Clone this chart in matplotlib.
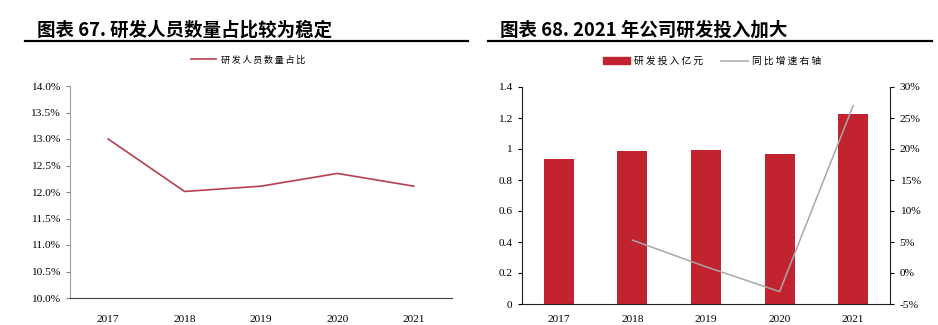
import matplotlib.pyplot as plt
import matplotlib.ticker as mtick
from matplotlib.lines import Line2D
from matplotlib.patches import Patch

plt.rcParams['font.family'] = ['Liberation Serif', 'Noto Sans CJK SC']

years = ['2017', '2018', '2019', '2020', '2021']
# share of R&D staff in total headcount (%)
staff_share = [13.0, 12.01, 12.11, 12.35, 12.11]
# R&D spending (100m CNY) and yoy growth (%)
rd_spend = [0.935, 0.985, 0.995, 0.965, 1.225]
growth_years = ['2018', '2019', '2020', '2021']
rd_growth = [5.3, 1.0, -3.0, 27.0]

red_line = '#B8404E'
bar_red = '#C1232F'
grey = '#A8A8A8'
cjk = ['Noto Sans CJK SC']
cjk_sp = ['Noto Sans CJK SC', 'DejaVu Sans']


def spaced(s, gap):
    return gap.join(s)


fig = plt.figure(figsize=(9.38, 3.25), dpi=100)

# titles with underline rules
fig.text(37/938, 1 - 30/325, '图表 67. 研发人员数量占比较为稳定', fontsize=13.3,
         fontweight='bold', family=cjk, va='center', ha='left')
fig.text(500/938, 1 - 30/325, '图表 68. 2021 年公司研发投入加大', fontsize=13.3,
         fontweight='bold', family=cjk, va='center', ha='left')
fig.add_artist(Line2D([25/938, 468/938], [1 - 41/325] * 2, color='black', lw=1.6))
fig.add_artist(Line2D([488/938, 932/938], [1 - 41/325] * 2, color='black', lw=1.6))

# left panel
ax1 = fig.add_axes([70/938, 27/325, 382/938, 212/325])
x = range(len(years))
ax1.plot(x, staff_share, color=red_line, lw=1.2)
ax1.set_xlim(-0.5, len(years) - 0.5)
ax1.set_ylim(10, 14)
ax1.set_yticks([10 + 0.5 * i for i in range(9)])
ax1.yaxis.set_major_formatter(mtick.FuncFormatter(lambda v, p: f'{v:.1f}%'))
ax1.set_xticks(list(x))
ax1.set_xticklabels(years)
ax1.tick_params(axis='x', length=0, pad=12, labelsize=8.2)
ax1.tick_params(axis='y', length=3, width=0.8, color='#808080', pad=4, labelsize=8.2)
for s in ['top', 'right']:
    ax1.spines[s].set_visible(False)
ax1.spines['left'].set_color('#A0A0A0')
ax1.spines['bottom'].set_color('#404040')
ax1.legend(handles=[Line2D([], [], color=red_line, lw=1.2)],
           labels=[spaced('研发人员数量占比', '\u2009')],
           prop={'family': cjk_sp, 'size': 6.5},
           loc='center', bbox_to_anchor=((248 - 70) / 382, (325 - 60 - 27) / 212),
           frameon=False, handlelength=2.8, handletextpad=0.5)

# right panel
ax2 = fig.add_axes([522/938, 21/325, 368/938, 217/325])
ax2.bar(x, rd_spend, width=0.41, color=bar_red, zorder=2)
ax2.set_xlim(-0.5, len(years) - 0.5)
ax2.set_ylim(0, 1.4)
ax2.set_yticks([0, 0.2, 0.4, 0.6, 0.8, 1, 1.2, 1.4])
ax2.set_yticklabels(['0', '0.2', '0.4', '0.6', '0.8', '1', '1.2', '1.4'])
ax2.set_xticks(list(x))
ax2.set_xticklabels(years)
ax2.tick_params(axis='x', length=0, pad=8, labelsize=8.2)
ax2.tick_params(axis='y', length=3, width=0.8, pad=4, labelsize=8.2)
ax2.spines['top'].set_visible(False)
ax2.spines['right'].set_visible(False)
for s in ['left', 'bottom']:
    ax2.spines[s].set_color('#202020')

ax3 = ax2.twinx()
gx = [years.index(y) for y in growth_years]
ax3.plot(gx, rd_growth, color=grey, lw=1.1, zorder=3)
ax3.set_ylim(-5, 30)
ax3.set_yticks(range(-5, 31, 5))
ax3.yaxis.set_major_formatter(mtick.FuncFormatter(lambda v, p: f'{v:.0f}%'))
ax3.tick_params(axis='y', length=3, width=0.8, pad=4, labelsize=8.2)
for s in ['top', 'left', 'bottom']:
    ax3.spines[s].set_visible(False)
ax3.spines['right'].set_color('#202020')

ax2.legend(handles=[Patch(color=bar_red), Line2D([], [], color=grey, lw=1.1)],
           labels=[spaced('研发投入亿元', ' '), spaced('同比增速右轴', ' ')],
           prop={'family': cjk_sp, 'size': 7},
           loc='center', ncol=2, bbox_to_anchor=((712 - 522) / 368, (325 - 61 - 21) / 217),
           frameon=False, handlelength=2.8, handletextpad=0.4, columnspacing=1.8)

fig.savefig('out.png', dpi=100)
